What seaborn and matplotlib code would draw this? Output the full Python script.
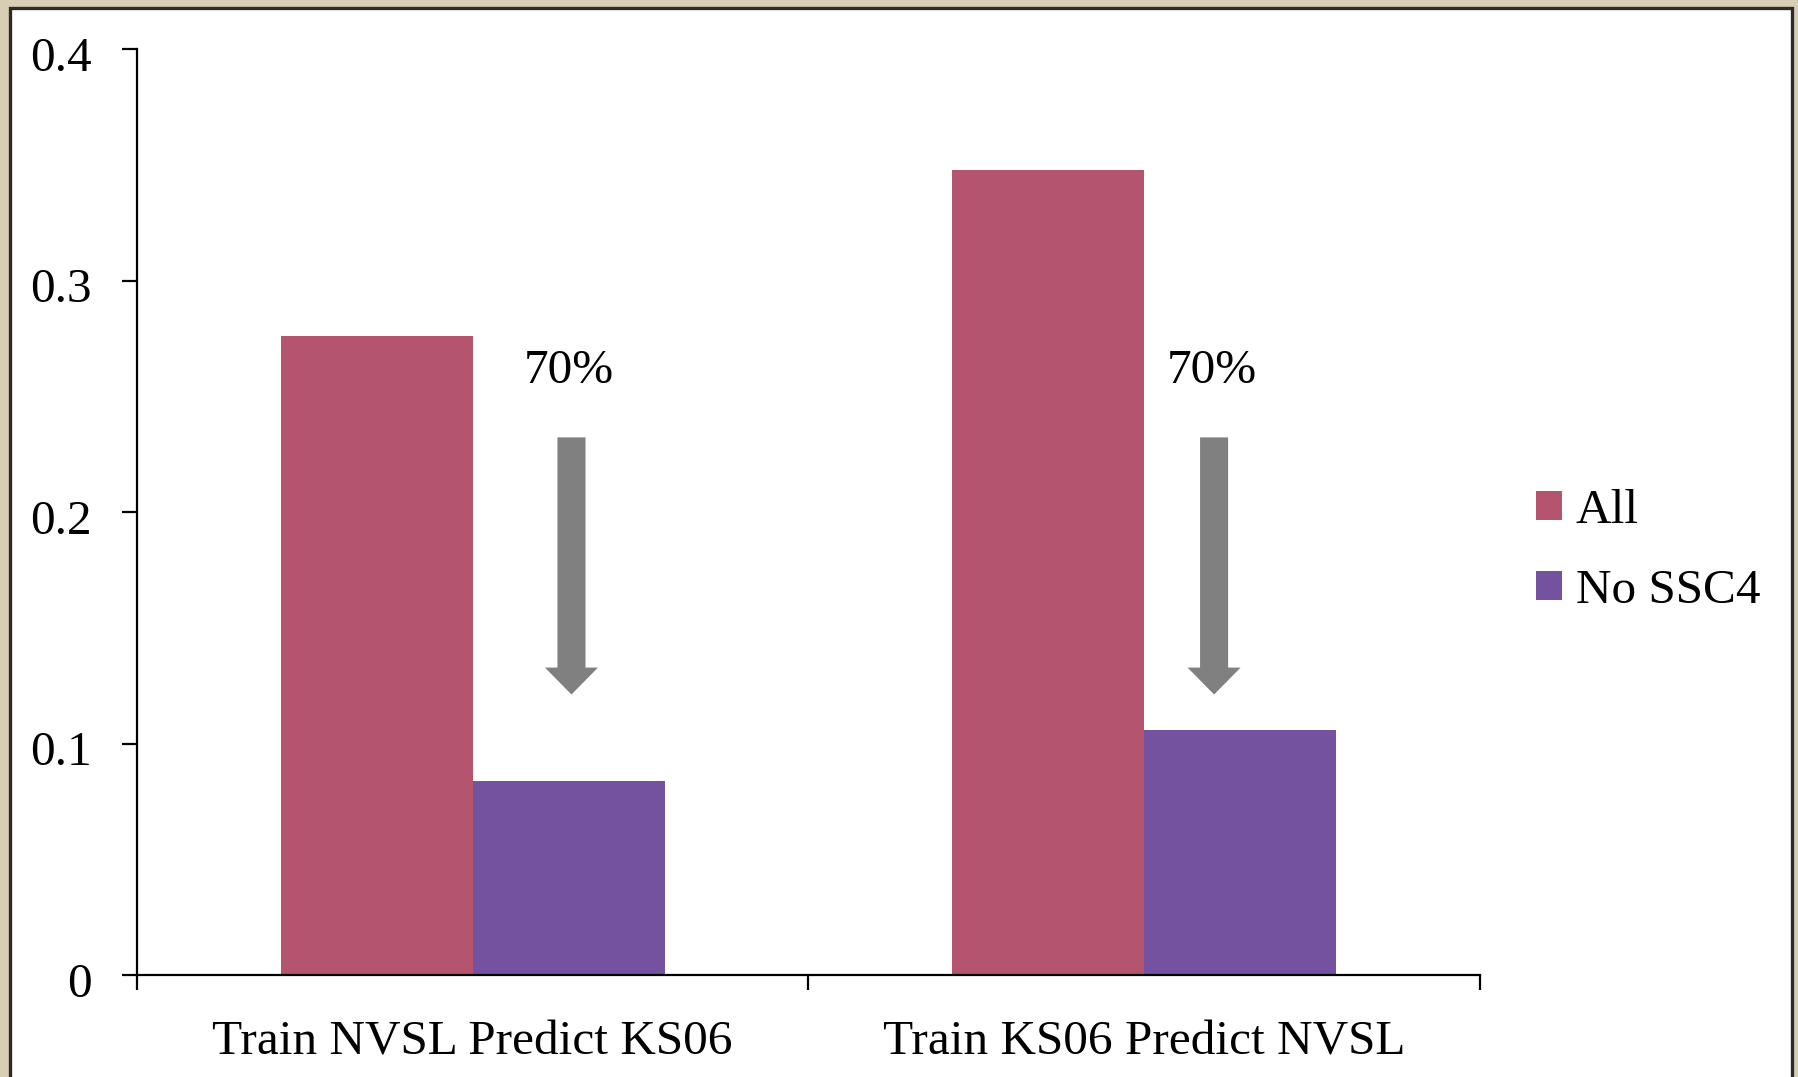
import matplotlib
matplotlib.use("Agg")
import matplotlib.pyplot as plt
import seaborn as sns
import pandas as pd
from matplotlib.patches import Rectangle
from matplotlib.transforms import ScaledTranslation

# ---- data ----
categories = ["Train NVSL Predict KS06", "Train KS06 Predict NVSL"]
series = ["All", "No SSC4"]
all_values = [0.276, 0.348]
no_ssc4_values = [0.084, 0.106]
drop_labels = ["70%", "70%"]
y_ticks = [0, 0.1, 0.2, 0.3, 0.4]
y_tick_labels = ["0", "0.1", "0.2", "0.3", "0.4"]
palette = {"All": "#B5546F", "No SSC4": "#7452A0"}

df = pd.DataFrame({
    "case": categories * 2,
    "set": [series[0]] * len(categories) + [series[1]] * len(categories),
    "value": all_values + no_ssc4_values,
})

W, H = 1799, 1077
FS = 35.5

sns.set_theme(style="white")
plt.rcParams["font.family"] = ["Liberation Serif", "DejaVu Serif"]
plt.rcParams["text.color"] = "black"
plt.rcParams["xtick.color"] = "black"
plt.rcParams["ytick.color"] = "black"
plt.rcParams["xtick.labelcolor"] = "black"
plt.rcParams["ytick.labelcolor"] = "black"

fig = plt.figure(figsize=(W / 100, H / 100), dpi=100)
fig.patch.set_facecolor("#D8CEB3")

# white slide panel with a dark frame
panel = Rectangle((10 / W, -0.02), (1792 - 10) / W, (H - 8) / H + 0.02,
                  transform=fig.transFigure, facecolor="white",
                  edgecolor="#2b2b2b", linewidth=2.4, zorder=-1)
fig.add_artist(panel)

ax = fig.add_axes([137 / W, (H - 975) / H, (1480 - 137) / W, (975 - 49.3) / H])
ax.set_facecolor("none")

sns.barplot(data=df, x="case", y="value", hue="set", hue_order=series,
            palette=palette, saturation=1, width=0.572, linewidth=0,
            ax=ax)

ax.set_xlim(-0.5, 1.5)
ax.set_ylim(0, 0.4)
ax.set_xlabel("")
ax.set_ylabel("")

for side in ("top", "right"):
    ax.spines[side].set_visible(False)
for side in ("left", "bottom"):
    ax.spines[side].set_color("black")
    ax.spines[side].set_linewidth(1.6)

# y axis
ax.set_yticks(y_ticks)
ax.set_yticklabels(y_tick_labels, fontsize=FS, color="black")
ax.tick_params(axis="y", direction="out", length=10.8, width=1.6,
               color="black", pad=22, left=True)
shift = ScaledTranslation(0, -3.4 / 72, fig.dpi_scale_trans)
for lbl in ax.get_yticklabels():
    lbl.set_transform(lbl.get_transform() + shift)

# x axis: boundary ticks, category names centred between them
ax.set_xticks([-0.5, 0.5, 1.5])
ax.set_xticklabels([])
ax.set_xticks([0, 1], minor=True)
ax.set_xticklabels(categories, minor=True, fontsize=FS, color="black")
ax.tick_params(axis="x", which="major", direction="out", length=10.8,
               width=1.6, color="black", bottom=True)
ax.tick_params(axis="x", which="minor", length=0, pad=32.5, bottom=True)

# drop annotations
arrow_x = [0.147, 1.104]
arrow_top, arrow_tip, text_y = 0.2323, 0.1212, 0.2558
for xpos, lab in zip(arrow_x, drop_labels):
    ax.annotate("", xy=(xpos, arrow_tip), xytext=(xpos, arrow_top),
                arrowprops=dict(arrowstyle="simple,head_length=1.94,head_width=3.82,tail_width=2.02",
                                mutation_scale=10, color="#808080", lw=0,
                                shrinkA=0, shrinkB=0))
    ax.text(xpos - 0.004, text_y, lab, ha="center", va="baseline",
            fontsize=FS, color="black")

# legend
handles, labels = ax.get_legend_handles_labels()
leg = ax.legend(handles, labels, loc="center left",
                bbox_to_anchor=(1536 / W, 1 - 551 / H), bbox_transform=fig.transFigure,
                frameon=False, fontsize=FS, handlelength=0.52, handleheight=0.52,
                handletextpad=0.29, labelspacing=0.74, borderaxespad=0, borderpad=0)
for t in leg.get_texts():
    t.set_color("black")

fig.savefig("out.png", dpi=100, facecolor=fig.get_facecolor())
